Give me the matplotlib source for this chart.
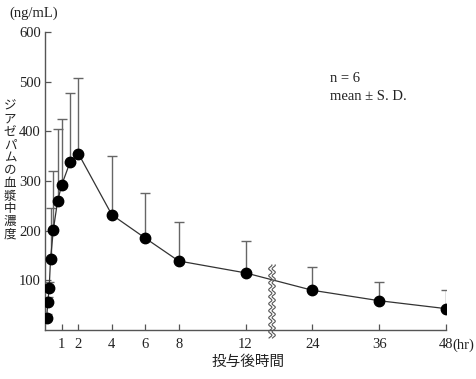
import numpy as np
import matplotlib
matplotlib.use("Agg")
import matplotlib.pyplot as plt

# ---- data ----
times = [0.1, 0.17, 0.25, 0.33, 0.5, 0.75, 1, 1.5, 2, 4, 6, 8, 12, 24, 36, 48]
mean = [25, 57, 84, 142, 202, 259, 292, 338, 355, 232, 185, 139, 115, 80, 59, 43]
sd = [8, 10, 12, 103, 118, 146, 133, 139, 152, 119, 90, 78, 65, 47, 38, 37]
xticks = [1, 2, 4, 6, 8, 12, 24, 36, 48]
xticklabels = ["1", "2", "4", "6", "8", "12", "24", "36", "48"]
yticks = [100, 200, 300, 400, 500, 600]
ylabel_text = "ジアゼパムの血漿中濃度"
xlabel_text = "投与後時間"

SERIF = ["Liberation Serif", "DejaVu Serif"]
JP = ["Noto Sans CJK JP", "DejaVu Sans"]

def fwd(x):
    x = np.asarray(x, dtype=float)
    return np.where(x <= 12, x, 12 + (x - 12) / 3.0)

def inv(u):
    u = np.asarray(u, dtype=float)
    return np.where(u <= 12, u, 12 + (u - 12) * 3.0)

W, H = 476, 379
fig = plt.figure(figsize=(W / 100, H / 100), dpi=100)
ax = fig.add_axes([45 / W, 1 - 330 / H, 401 / W, 298 / H])
ax.set_xscale("function", functions=(fwd, inv))
ax.set_xlim(0, 48)
ax.set_ylim(0, 600)

axis_col = "#555555"
line_col = "#333333"
err_col = "#666666"

ax.errorbar(times, mean, yerr=[np.zeros(len(sd)), sd], fmt="none",
            ecolor=err_col, elinewidth=1.0, capsize=3.5, capthick=1.0, zorder=2)
ax.plot(times, mean, color=line_col, lw=0.9, zorder=3)
ax.plot(times, mean, "o", color="black", markersize=7.5, zorder=4)

for s in ["top", "right"]:
    ax.spines[s].set_visible(False)
for s in ["left", "bottom"]:
    ax.spines[s].set_color(axis_col)
    ax.spines[s].set_linewidth(1.0)

ax.set_xticks(xticks)
ax.set_xticklabels(xticklabels)
ax.set_yticks(yticks)
ax.set_yticklabels([str(v) for v in yticks])
ax.xaxis.set_minor_locator(matplotlib.ticker.NullLocator())
ax.tick_params(direction="in", length=4, width=0.9, color=axis_col,
               labelsize=10.5, labelcolor="#222222")
ax.tick_params(axis="x", pad=6)
ax.tick_params(axis="y", pad=3)
for lab in ax.get_xticklabels() + ax.get_yticklabels():
    lab.set_family(SERIF)

# axis break mark (wavy double line)
yy = np.linspace((330 - 338) / 298, (330 - 265) / 298, 300)
xc = (272 - 45) / 401
amp = 1.6 / 401
per = 7.0 / 298
for dx in (-1.7 / 401, 1.7 / 401):
    ax.plot(xc + dx + amp * np.sin(2 * np.pi * yy / per), yy,
            transform=ax.transAxes, color="#555555", lw=0.8,
            clip_on=False, zorder=5)

# texts
fs = 10.5
fig.text(9 / W, 1 - 13 / H, "(ng/mL)", family=SERIF, fontsize=fs,
         ha="left", va="center", color="#222222")
fig.text(452 / W, 1 - 345 / H, "(hr)", family=SERIF, fontsize=fs,
         ha="left", va="center", color="#222222")
fig.text(330 / W, 1 - 78 / H, "n = 6", family=SERIF, fontsize=fs,
         ha="left", va="center", color="#222222")
fig.text(330 / W, 1 - 97 / H, "mean ± S. D.", family=SERIF, fontsize=fs,
         ha="left", va="center", color="#222222")
# vertical (tategaki) y label, one character per row
pitch = 12.8
for i, ch in enumerate(ylabel_text):
    fig.text(10 / W, 1 - (106.5 + pitch * i) / H, ch, family=JP, fontsize=9,
             ha="center", va="center", color="#222222")
fig.text(248 / W, 1 - 362 / H, xlabel_text, family=JP, fontsize=10.5,
         ha="center", va="center", color="#222222")

fig.savefig("out.png", dpi=100)
